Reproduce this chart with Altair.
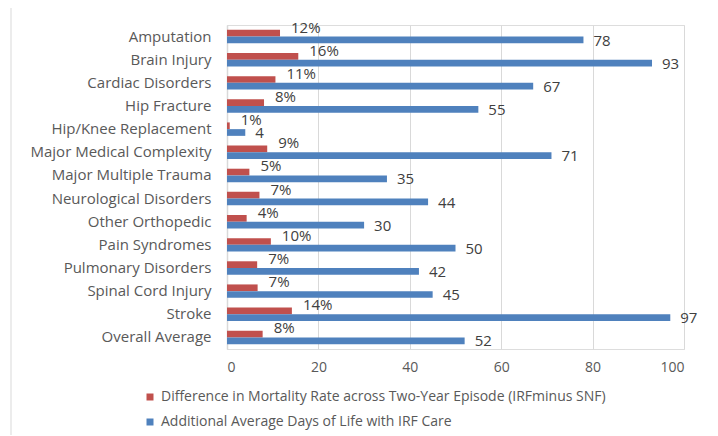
import altair as alt
import pandas as pd

categories = [
    "Amputation", "Brain Injury", "Cardiac Disorders", "Hip Fracture",
    "Hip/Knee Replacement", "Major Medical Complexity", "Major Multiple Trauma",
    "Neurological Disorders", "Other Orthopedic", "Pain Syndromes",
    "Pulmonary Disorders", "Spinal Cord Injury", "Stroke", "Overall Average",
]
mortality_diff = [11.6, 15.6, 10.6, 8.1, 0.6, 8.8, 4.9, 7.1, 4.3, 9.6, 6.6, 6.7, 14.2, 7.8]
extra_days = [78, 93, 67, 55, 4, 71, 35, 44, 30, 50, 42, 45, 97, 52]
series_names = [
    "Difference in Mortality Rate across Two-Year Episode (IRFminus SNF)",
    "Additional Average Days of Life with IRF Care",
]
series_colors = ["#C0504D", "#4F81BD"]
x_ticks = [0, 20, 40, 60, 80, 100]

rows = []
for c, m, d in zip(categories, mortality_diff, extra_days):
    rows.append({"cat": c, "series": series_names[0], "value": m, "label": f"{round(m)}%"})
    rows.append({"cat": c, "series": series_names[1], "value": d, "label": f"{d}"})
df = pd.DataFrame(rows)

FONT = "Open Sans"

y_enc = alt.Y(
    "cat:N", sort=categories, title=None,
    scale=alt.Scale(paddingInner=0.42, paddingOuter=0.21),
    axis=alt.Axis(labelFont=FONT, labelFontSize=15, labelColor="#595959",
                  labelPadding=16, ticks=False, domainColor="#D9D9D9",
                  domainWidth=1.5, labelLimit=300),
)
x_enc = alt.X(
    "value:Q", title=None,
    scale=alt.Scale(domain=[0, 100], nice=False),
    axis=alt.Axis(values=x_ticks, grid=True, gridColor="#D9D9D9", domain=False,
                  ticks=False, labelFont=FONT, labelFontSize=14,
                  labelColor="#595959", labelPadding=11),
)

base = alt.Chart(df)

bars = base.mark_bar().encode(
    y=y_enc,
    x=x_enc,
    yOffset=alt.YOffset("series:N", sort=series_names,
                        scale=alt.Scale(paddingInner=0, paddingOuter=0)),
    color=alt.Color(
        "series:N", sort=series_names,
        scale=alt.Scale(domain=series_names, range=series_colors),
        legend=alt.Legend(title=None, orient="none", legendX=-84, legendY=41 + 324,
                          direction="vertical", symbolType="square", symbolSize=49,
                          symbolStrokeWidth=0, labelFont=FONT, labelFontSize=14,
                          labelColor="#595959", rowPadding=11, labelOffset=4,
                          labelLimit=600),
    ),
)

text_red = base.transform_filter(
    alt.datum.series == series_names[0]
).mark_text(align="left", baseline="middle", dx=11, dy=-9, font=FONT,
            fontSize=15, color="#404040").encode(
    y=alt.Y("cat:N", sort=categories), x=alt.X("value:Q"), text="label:N"
)
text_blue = base.transform_filter(
    alt.datum.series == series_names[1]
).mark_text(align="left", baseline="middle", dx=10, dy=4, font=FONT,
            fontSize=15, color="#404040").encode(
    y=alt.Y("cat:N", sort=categories), x=alt.X("value:Q"), text="label:N"
)

border = alt.Chart(pd.DataFrame({"a": [0]})).mark_rect(
    fill="white", fillOpacity=0, stroke="#D9D9D9", strokeWidth=1, clip=False
).encode(
    x=alt.value(-216), x2=alt.value(488), y=alt.value(-19), y2=alt.value(430)
)

chart = alt.layer(border, bars, text_red, text_blue).properties(
    width=457, height=324,
    autosize=alt.AutoSizeParams(type="none"),
    padding={"left": 219, "top": 17, "right": 26, "bottom": 86},
).configure_view(stroke=None).configure(background="white")

chart.save("out.html", embed_options={"renderer": "svg", "actions": False})
